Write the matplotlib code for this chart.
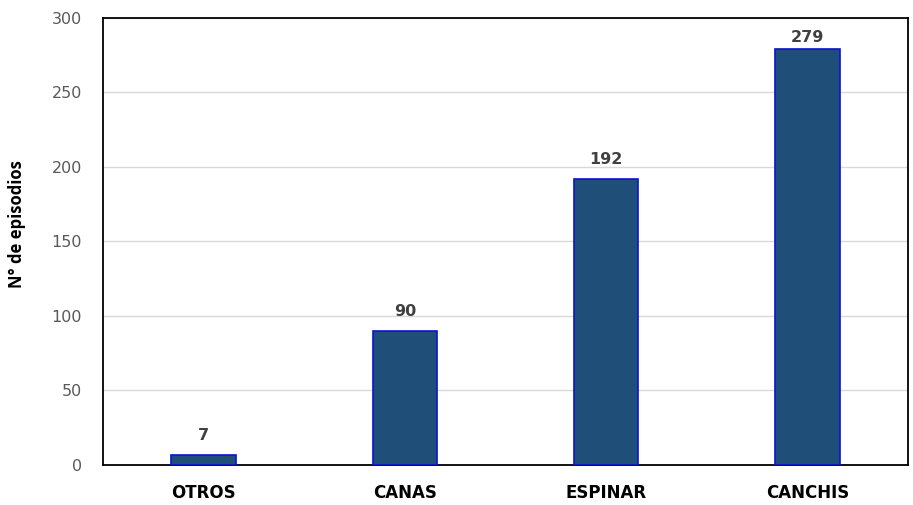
import matplotlib
matplotlib.use("Agg")
import matplotlib.pyplot as plt

categories = ["OTROS", "CANAS", "ESPINAR", "CANCHIS"]
values = [7, 90, 192, 279]
yticks = [0, 50, 100, 150, 200, 250, 300]

fig = plt.figure(figsize=(9.13, 5.05), dpi=100)
ax = fig.add_axes([0.1128, 0.0792, 0.8817, 0.8852])

x = list(range(len(categories)))
ax.bar(x, values, width=0.32, color="#1F4E79", edgecolor="#0A14D0", linewidth=1.2, zorder=3)
for xi, v in zip(x, values):
    ax.text(xi, min(v + 8, 282), str(v), ha="center", va="bottom", fontsize=11.5,
            fontweight="bold", color="#404040", family="DejaVu Sans")

ax.set_xlim(-0.5, len(categories) - 0.5)
ax.set_ylim(0, 300)
ax.set_yticks(yticks)
ax.set_yticklabels([str(t) for t in yticks], fontsize=11.5, color="#595959", family="DejaVu Sans")
ax.set_xticks(x)
ax.set_xticklabels(categories, fontsize=12, fontweight="bold", color="black", family="DejaVu Sans")
ax.tick_params(axis="both", length=0)
ax.tick_params(axis="x", pad=14)
ax.tick_params(axis="y", pad=15)
ax.yaxis.grid(True, color="#D9D9D9", linewidth=1, zorder=0)
ax.set_axisbelow(True)
for s in ax.spines.values():
    s.set_color("black")
    s.set_linewidth(1.3)
ax.set_ylabel("N° de episodios", fontsize=12, fontweight="bold", family="Open Sans")
ax.yaxis.set_label_coords(-0.096, 0.54)
fig.savefig("out.png", dpi=100)
